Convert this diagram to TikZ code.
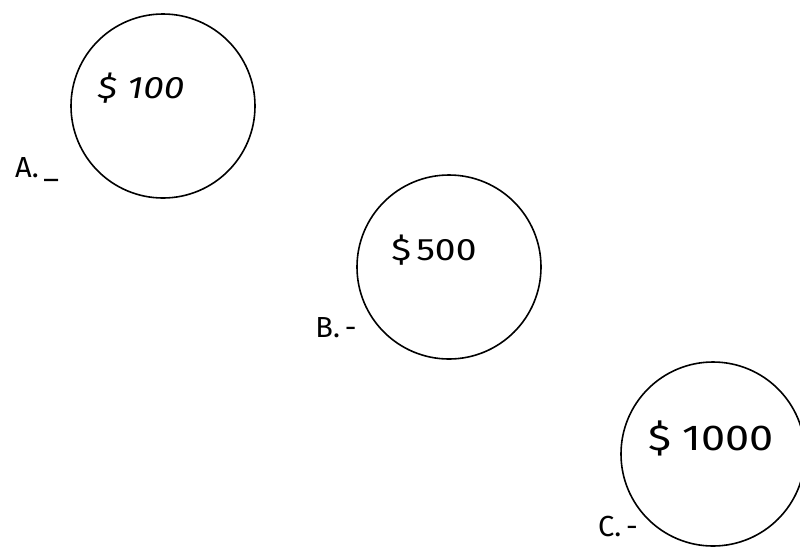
\documentclass[tikz,border=0pt]{standalone}
\usepackage{fontspec}
\setsansfont{Fira Sans}
\newfontfamily\widefont[FakeStretch=1.2]{Fira Sans}
\newfontfamily\wideitfont[FakeStretch=1.2]{Fira Sans Italic}
\begin{document}
\begin{tikzpicture}[x=1pt,y=-1pt,
  coin/.style={circle,draw,line width=1.6pt,minimum size=184pt,inner sep=0pt},
  amt/.style={font=\widefont\fontsize{31}{34}\selectfont,inner sep=0pt},
  lab/.style={font=\sffamily\fontsize{29}{31}\selectfont,inner sep=0pt}]
\useasboundingbox (0,0) rectangle (800,547);
\node[coin] (ca) at (163,106) {};
\node[coin] (cb) at (449,267) {};
\node[coin] (cc) at (713,454) {};
\node[amt,font=\wideitfont\fontsize{31}{34}\selectfont] (ta) at (141,88) {\$\,\,100};
\node[amt] (tb) at (434,250) {\$\,500};
\node[amt,font=\widefont\fontsize{36}{38}\selectfont] (tc) at (711,438) {\$\,\,1000};
\node[lab] (la) at (37,170) {A.\,\_};
\node[lab] (lb) at (336,328) {B.\,-};
\node[lab] (lc) at (618,526) {C.\,-};
\end{tikzpicture}
\end{document}
